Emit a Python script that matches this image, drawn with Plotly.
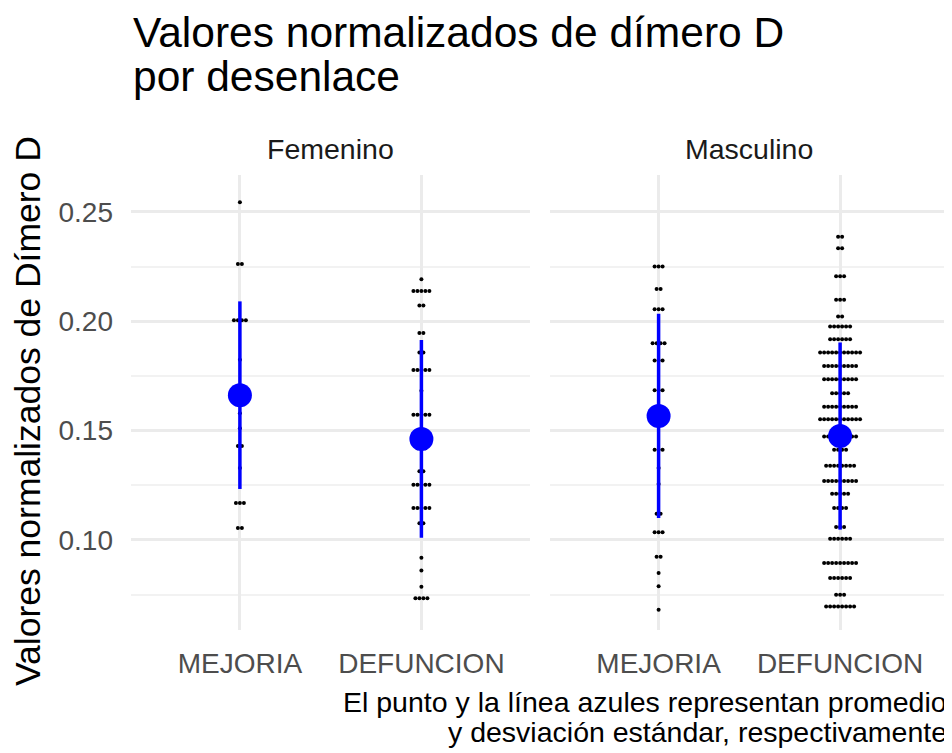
import plotly.graph_objects as go

# ---------------- data ----------------
facets = ["Femenino", "Masculino"]
categories = ["MEJORIA", "DEFUNCION"]
y_ticks = [0.10, 0.15, 0.20, 0.25]
y_minor = [0.075, 0.125, 0.175, 0.225]

# dot-plot bins (value, number of stacked dots)
fem_mej_vals = [0.2544, 0.2262, 0.2005, 0.1824, 0.1579, 0.1511, 0.1430, 0.1329, 0.1169, 0.1055]
fem_mej_counts = [1, 2, 4, 1, 1, 1, 2, 1, 3, 2]

fem_def_vals = [0.2192, 0.2139, 0.2072, 0.1946, 0.1857, 0.1777, 0.1682, 0.1572, 0.1419,
                0.1314, 0.1252, 0.1146, 0.1076, 0.0919, 0.0860, 0.0786, 0.0733]
fem_def_counts = [1, 5, 2, 2, 2, 5, 1, 5, 3, 2, 5, 5, 2, 1, 1, 1, 4]

mas_mej_vals = [0.2250, 0.2148, 0.2055, 0.1900, 0.1821, 0.1685, 0.1412, 0.1329, 0.1256,
                0.1120, 0.1035, 0.0923, 0.0849, 0.0788, 0.0681]
mas_mej_counts = [3, 2, 3, 4, 3, 3, 3, 1, 1, 2, 3, 2, 1, 1, 1]

mas_def_vals = [0.2387, 0.2334, 0.2206, 0.2098, 0.2022, 0.1976, 0.1918, 0.1857, 0.1796,
                0.1735, 0.1671, 0.1609, 0.1552, 0.1473, 0.1412, 0.1339, 0.1270, 0.1211,
                0.1146, 0.1059, 0.1005, 0.0894, 0.0826, 0.0749, 0.0696]
mas_def_counts = [2, 2, 3, 3, 2, 6, 6, 11, 9, 9, 5, 9, 11, 9, 4, 8, 9, 5, 4, 3, 6, 9, 6, 3, 8]

# summary (mean, sd) per facet / category
fem_means = [0.1662, 0.1462]
fem_sds = [0.0429, 0.0452]
mas_means = [0.1567, 0.1475]
mas_sds = [0.0467, 0.0428]

caption_lines = ["El punto y la línea azules representan promedio",
                 "y desviación estándar, respectivamente"]
title_lines = ["Valores normalizados de dímero D", "por desenlace"]
y_title = "Valores normalizados de Dímero D"

# ---------------- figure ----------------
FONT = "Liberation Sans"
OFF = 8                      # page body margin of the html
W, H = 952 - OFF, 753 - OFF
ML, MR, MT, MB = 131 - OFF, 3, 175 - OFF, 123
DOT_STEP = 0.022  # horizontal stacking step (x units) of the dot plot

groups = [
    ("x", "y", [(fem_mej_vals, fem_mej_counts), (fem_def_vals, fem_def_counts)], fem_means, fem_sds),
    ("x2", "y2", [(mas_mej_vals, mas_mej_counts), (mas_def_vals, mas_def_counts)], mas_means, mas_sds),
]

fig = go.Figure()
for xa, ya, cats, means, sds in groups:
    for ci, (vals, counts) in enumerate(cats):
        xs, ys = [], []
        for v, n in zip(vals, counts):
            for k in range(n):
                xs.append(ci + (k - (n - 1) / 2) * DOT_STEP)
                ys.append(v)
        fig.add_trace(go.Scatter(x=xs, y=ys, mode="markers", xaxis=xa, yaxis=ya,
                                 marker=dict(size=4, color="black", line=dict(width=0)),
                                 showlegend=False, hoverinfo="y"))
    fig.add_trace(go.Scatter(x=[0, 1], y=means, mode="markers", xaxis=xa, yaxis=ya,
                             marker=dict(size=24, color="#0000FF", line=dict(width=0)),
                             error_y=dict(type="data", array=sds, visible=True,
                                          color="#0000FF", thickness=3.5, width=0),
                             showlegend=False))

plot_w = W - ML - MR
panel_w = 2.2 * 181.5 / plot_w
dom1 = [0, panel_w]
dom2 = [1 - panel_w, 1]

xcommon = dict(range=[-0.6, 1.6], tickvals=[0, 1], ticktext=categories, showgrid=True,
               gridcolor="#EBEBEB", gridwidth=2.5, zeroline=False, showline=False,
               ticks="", ticklabelstandoff=14,
               tickfont=dict(family=FONT, size=28, color="#4D4D4D"), fixedrange=True)
ycommon = dict(range=[0.0588, 0.2669], tickvals=y_ticks, ticktext=[f"{t:.2f}" for t in y_ticks],
               showgrid=True, gridcolor="#EBEBEB", gridwidth=2.5, zeroline=False,
               showline=False, ticks="",
               minor=dict(tickvals=y_minor, showgrid=True, gridcolor="#F2F2F2", gridwidth=1.5),
               tickfont=dict(family=FONT, size=28, color="#4D4D4D"), fixedrange=True)

fig.update_layout(
    width=W, height=H,
    margin=dict(l=ML, r=MR, t=MT, b=MB),
    paper_bgcolor="white", plot_bgcolor="white",
    xaxis=dict(domain=dom1, anchor="y", **xcommon),
    xaxis2=dict(domain=dom2, anchor="y2", **xcommon),
    yaxis=dict(domain=[0, 1], anchor="x", ticklabelstandoff=17, **ycommon),
    yaxis2=dict(domain=[0, 1], anchor="x2", matches="y", showticklabels=False, **ycommon),
    font=dict(family=FONT),
)

ph = H - MT - MB
def py(pix):  # window pixel -> paper y
    return (H - MB - (pix - OFF)) / ph
def px(pix):  # window pixel -> paper x
    return (pix - OFF - ML) / plot_w

ann = []
# title
ann.append(dict(text=title_lines[0], x=0, y=py(32), xref="paper", yref="paper",
                xanchor="left", yanchor="middle", showarrow=False,
                font=dict(family=FONT, size=42.5, color="black")))
ann.append(dict(text=title_lines[1], x=0, y=py(76), xref="paper", yref="paper",
                xanchor="left", yanchor="middle", showarrow=False,
                font=dict(family=FONT, size=42.5, color="black")))
# strips
for name, dom in zip(facets, [dom1, dom2]):
    ann.append(dict(text=name, x=(dom[0] + dom[1]) / 2, y=py(149), xref="paper", yref="paper",
                    xanchor="center", yanchor="middle", showarrow=False,
                    font=dict(family=FONT, size=28.5, color="#1A1A1A")))
# y title
ann.append(dict(text=y_title, x=px(28), y=py(411), xref="paper", yref="paper",
                xanchor="center", yanchor="middle", textangle=-90, showarrow=False,
                font=dict(family=FONT, size=35.5, color="black")))
# caption
ann.append(dict(text=caption_lines[0], x=1, y=py(702), xref="paper", yref="paper",
                xanchor="right", yanchor="middle", showarrow=False,
                font=dict(family=FONT, size=28.5, color="black")))
ann.append(dict(text=caption_lines[1], x=1, y=py(732), xref="paper", yref="paper",
                xanchor="right", yanchor="middle", showarrow=False,
                font=dict(family=FONT, size=28.5, color="black")))
fig.update_layout(annotations=ann)

fig.write_html("out.html")
